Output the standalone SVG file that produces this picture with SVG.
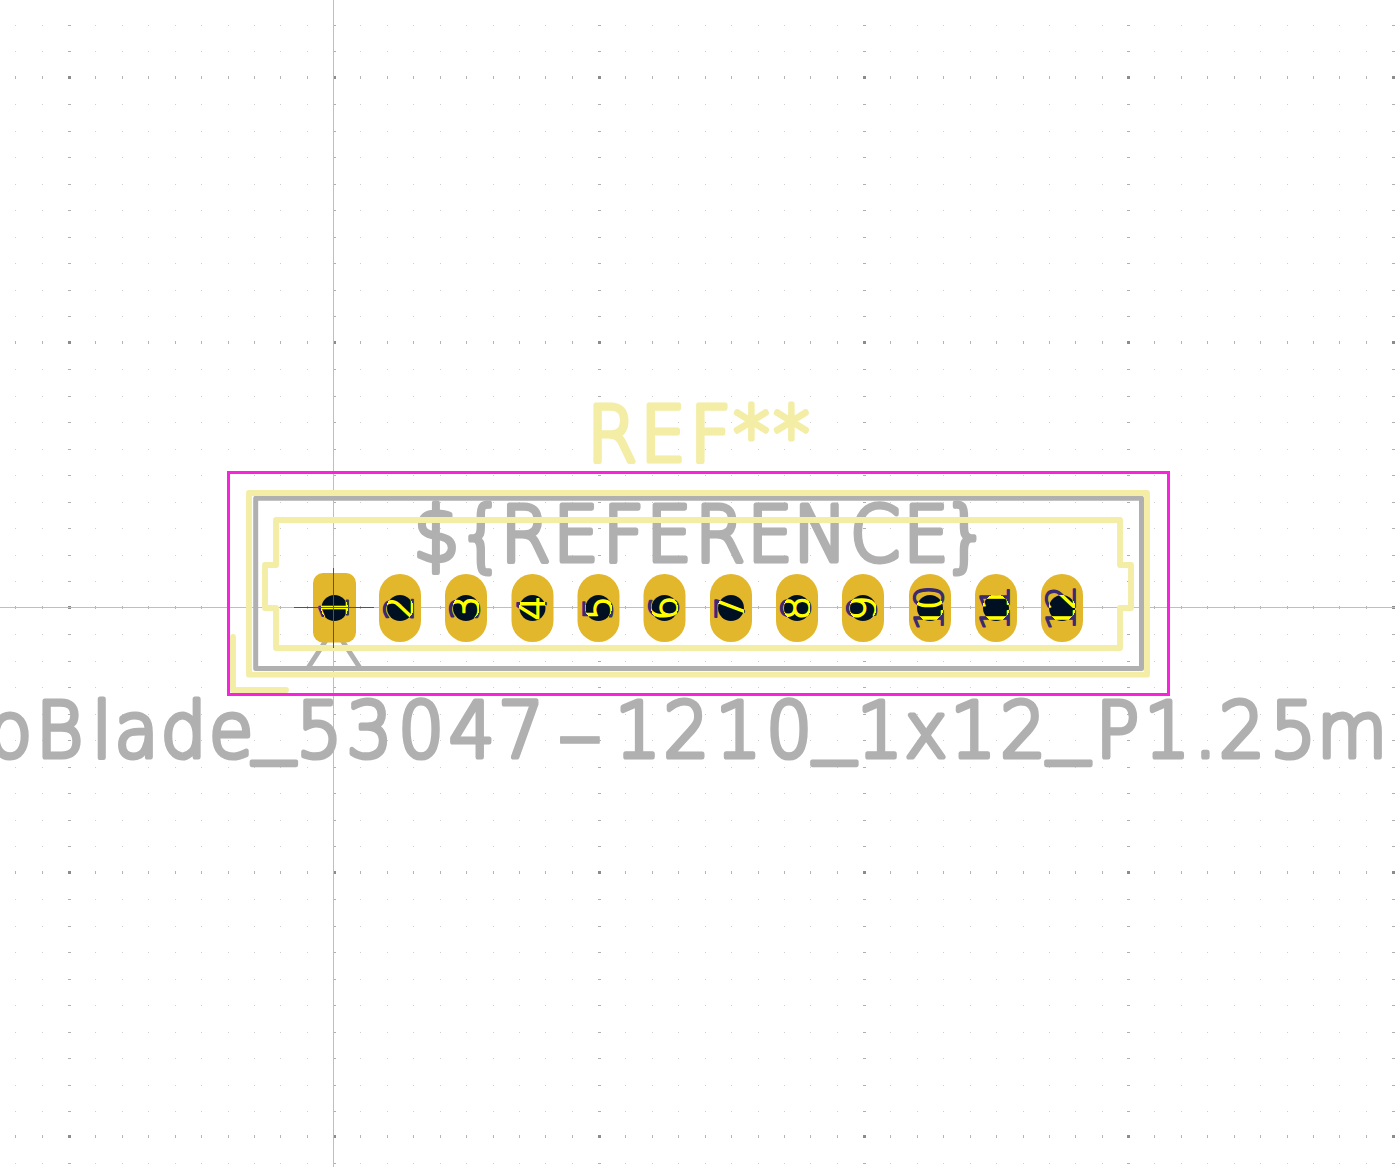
<svg xmlns="http://www.w3.org/2000/svg" width="1395" height="1167" viewBox="0 0 1395 1167">
<style>
.big{font-family:"DejaVu Sans",sans-serif;font-weight:200;font-size:90px;text-anchor:middle;stroke-width:6;stroke-linejoin:round;stroke-linecap:round}
.under{font-size:107px;stroke-width:5}
.dash{font-size:183px;stroke-width:1.5}
.silk{fill:none;stroke:#f3eda5;stroke-width:5.8;stroke-linejoin:round;stroke-linecap:round}
.fab{fill:none;stroke:#b0b0b0;stroke-width:5;stroke-linejoin:round;stroke-linecap:round}
.padshape{fill:#e2b72c}
.hole{fill:#001023}
.num{font-family:"DejaVu Sans",sans-serif;font-weight:200;font-size:39px;text-anchor:middle;fill:url(#numfill);stroke:url(#numfill);stroke-width:1.5;stroke-linejoin:round}
</style>
<defs>
<radialGradient id="numfill" gradientUnits="userSpaceOnUse" cx="0" cy="0" r="14" fx="0" fy="0">
<stop offset="0.95" stop-color="#ffff00"/><stop offset="0.95" stop-color="#3a2a70"/>
</radialGradient>
<path id="dotrow" d="M26 0h1v1h-1zM53 0h1v1h-1zM79 0h1v1h-1zM106 0h1v1h-1zM132 0h1v1h-1zM159 0h1v1h-1zM185 0h1v1h-1zM211 0h1v1h-1zM238 0h1v1h-1z" fill="#cfcfcf"/>
<path id="tickrow" d="M26 -1h1v3h-1zM53 -1h1v3h-1zM79 -1h1v3h-1zM106 -1h1v3h-1zM132 -1h1v3h-1zM159 -1h1v3h-1zM185 -1h1v3h-1zM211 -1h1v3h-1zM238 -1h1v3h-1z" fill="#b4b4b4"/>
<g id="tile">
<use href="#tickrow"/><rect x="-1" y="-1" width="3" height="3" fill="#8c8c8c"/>
<g fill="#b0b0b0"><rect x="-1" y="27" width="3" height="1"/><rect x="-1" y="54" width="3" height="1"/><rect x="-1" y="80" width="3" height="1"/><rect x="-1" y="107" width="3" height="1"/><rect x="-1" y="133" width="3" height="1"/><rect x="-1" y="160" width="3" height="1"/><rect x="-1" y="186" width="3" height="1"/><rect x="-1" y="213" width="3" height="1"/><rect x="-1" y="239" width="3" height="1"/></g>
<use href="#dotrow" y="27"/><use href="#dotrow" y="54"/><use href="#dotrow" y="80"/><use href="#dotrow" y="107"/><use href="#dotrow" y="133"/><use href="#dotrow" y="160"/><use href="#dotrow" y="186"/><use href="#dotrow" y="213"/><use href="#dotrow" y="239"/>
</g>
<g id="tilerow"><use href="#tile" x="-196"/><use href="#tile" x="69"/><use href="#tile" x="334"/><use href="#tile" x="599"/><use href="#tile" x="864"/><use href="#tile" x="1128"/><use href="#tile" x="1393"/></g>
</defs>
<rect width="1395" height="1167" fill="#ffffff"/>
<g id="grid" shape-rendering="crispEdges"><use href="#tilerow" y="-188"/><use href="#tilerow" y="77"/><use href="#tilerow" y="342"/><use href="#tilerow" y="607"/><use href="#tilerow" y="872"/><use href="#tilerow" y="1136"/></g>
<g id="axes" fill="#bfbfbf" shape-rendering="crispEdges"><rect x="333" y="0" width="1" height="1167"/><rect x="0" y="607" width="1395" height="1"/></g>
<g id="courtyard"><rect x="228.5" y="472.5" width="940" height="222" fill="none" stroke="#f824dc" stroke-width="3"/></g>
<g id="fab">
<rect class="fab" x="255.7" y="498.3" width="885.8" height="170.2"/>
<path class="fab" d="M308 668L334 628L360 668"/>
<text id="fab-ref" class="big" transform="scale(.8,.852)" y="658.9" fill="#b0b0b0" stroke="#b0b0b0" x="545.6 601.9 656.9 720 779.4 836.3 900 962.5 1025.6 1093.8 1157.5 1207.5">${REFERENCE}</text>
<text id="fab-value" class="big" transform="scale(.8,.852)" y="889" fill="#b0b0b0" stroke="#b0b0b0" x="12.5 74.4 127.5 170.6 229.4 288.8 342.5 399.4 461.9 526.3 590 651.3 725 797.5 858.1 923.1 986.3 1043.1 1100 1157.5 1216.3 1278.8 1335.6 1396.9 1458.8 1506.9 1552.5 1616.3 1690">oBlade<tspan class="under" dy="-15.4">_</tspan><tspan dy="15.4">53047</tspan><tspan class="dash" dy="29">-</tspan><tspan dy="-29">1210</tspan><tspan class="under" dy="-15.4">_</tspan><tspan dy="15.4">1x12</tspan><tspan class="under" dy="-15.4">_</tspan><tspan dy="15.4">P1.25m</tspan></text>
</g>
<g id="silk">
<rect class="silk" x="249" y="493" width="898" height="181.7"/>
<path class="silk" d="M276 520H1120V565H1131V608H1120V648H276V608H265V565H276Z"/>
<path class="silk" d="M233 637V690H286"/>
<text id="silk-ref" class="big" transform="scale(.8,.852)" y="541.5" fill="#f3eda5" stroke="#f3eda5" x="765 828.8 888.1 939.4 989.4">REF**</text>
</g>
<g id="pad-1" transform="translate(334.5,608)"><rect class="padshape" x="-21.5" y="-35" width="43" height="69.5" rx="10"/><circle class="hole" r="13"/><text class="num" transform="rotate(-90)" y="13">1</text></g>
<g id="pad-2" transform="translate(400,608)"><rect class="padshape" x="-21" y="-34" width="42" height="68" rx="21"/><circle class="hole" r="13"/><text class="num" transform="rotate(-90)" y="13">2</text></g>
<g id="pad-3" transform="translate(466,608)"><rect class="padshape" x="-21" y="-34" width="42" height="68" rx="21"/><circle class="hole" r="13"/><text class="num" transform="rotate(-90)" y="13">3</text></g>
<g id="pad-4" transform="translate(532.5,608)"><rect class="padshape" x="-21" y="-34" width="42" height="68" rx="21"/><circle class="hole" r="13"/><text class="num" transform="rotate(-90)" y="13">4</text></g>
<g id="pad-5" transform="translate(598.5,608)"><rect class="padshape" x="-21" y="-34" width="42" height="68" rx="21"/><circle class="hole" r="13"/><text class="num" transform="rotate(-90)" y="13">5</text></g>
<g id="pad-6" transform="translate(664.5,608)"><rect class="padshape" x="-21" y="-34" width="42" height="68" rx="21"/><circle class="hole" r="13"/><text class="num" transform="rotate(-90)" y="13">6</text></g>
<g id="pad-7" transform="translate(731,608)"><rect class="padshape" x="-21" y="-34" width="42" height="68" rx="21"/><circle class="hole" r="13"/><text class="num" transform="rotate(-90)" y="13">7</text></g>
<g id="pad-8" transform="translate(797,608)"><rect class="padshape" x="-21" y="-34" width="42" height="68" rx="21"/><circle class="hole" r="13"/><text class="num" transform="rotate(-90)" y="13">8</text></g>
<g id="pad-9" transform="translate(863,608)"><rect class="padshape" x="-21" y="-34" width="42" height="68" rx="21"/><circle class="hole" r="13"/><text class="num" transform="rotate(-90)" y="13">9</text></g>
<g id="pad-10" transform="translate(930,608)"><rect class="padshape" x="-21" y="-34" width="42" height="68" rx="21"/><circle class="hole" r="13"/><text class="num" transform="rotate(-90)" y="13" x="-10.5 10.5">10</text></g>
<g id="pad-11" transform="translate(996,608)"><rect class="padshape" x="-21" y="-34" width="42" height="68" rx="21"/><circle class="hole" r="13"/><text class="num" transform="rotate(-90)" y="13" x="-10.5 10.5">11</text></g>
<g id="pad-12" transform="translate(1062,608)"><rect class="padshape" x="-21" y="-34" width="42" height="68" rx="21"/><circle class="hole" r="13"/><text class="num" transform="rotate(-90)" y="13" x="-10.5 10.5">12</text></g>
<g id="origin" fill="#54506a" shape-rendering="crispEdges"><rect x="294" y="607" width="80" height="1"/><rect x="333" y="568" width="1" height="80"/></g>
</svg>
